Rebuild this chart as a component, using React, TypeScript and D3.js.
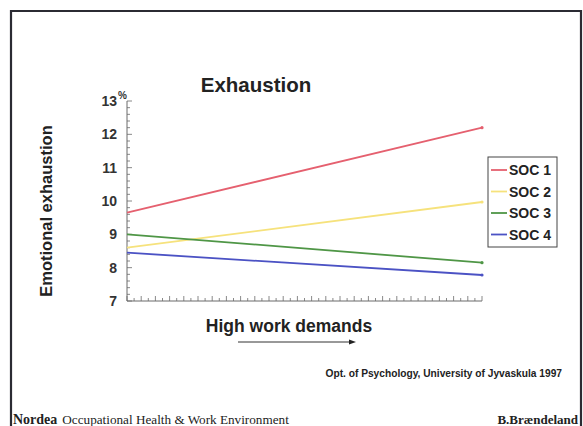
import React from "react";
import * as d3 from "d3";

const seriesNames = ["SOC 1", "SOC 2", "SOC 3", "SOC 4"];
const startValues = [9.65, 8.6, 9.0, 8.45];
const endValues = [12.2, 9.97, 8.15, 7.78];
const seriesColors = ["#e5606f", "#f6e27c", "#4f9646", "#4b52c4"];
const yTicks = [7, 8, 9, 10, 11, 12, 13];
const xPoints = [0, 1];

export default function App() {
  const W = 583, H = 426;
  const x = d3.scaleLinear().domain([0, 1]).range([127, 482]);
  const y = d3.scaleLinear().domain([7, 13]).range([301, 101]);
  const line = d3.line<[number, number]>().x(d => x(d[0])).y(d => y(d[1]));
  const yMinor = d3.range(7, 13.001, 0.2);
  const xMinor = d3.range(0, 51).map(i => i / 50);
  const axisColor = "#6b6b6b";
  return (
    <svg width={W} height={H} style={{ position: "absolute", left: 0, top: 0, background: "#fff" }}
      fontFamily="'Liberation Sans', Arial, sans-serif">
      {/* frame */}
      <path d={`M11,${H} L11,11 L581,11 L581,${H}`} fill="none" stroke="#2b2b33" strokeWidth={2.2} />
      <text x={256} y={92} textAnchor="middle" fontSize={20.5} fontWeight="bold" fill="#222">Exhaustion</text>
      {/* y axis */}
      <line x1={x(0)} x2={x(0)} y1={y(13)} y2={y(7)} stroke={axisColor} strokeWidth={1} />
      {yMinor.map((v, i) => (
        <line key={"ym" + i} x1={x(0)} x2={x(0) + (i % 5 === 0 ? 5 : 3)} y1={y(v)} y2={y(v)} stroke={axisColor} strokeWidth={0.8} />
      ))}
      {yTicks.map(v => (
        <text key={"yt" + v} x={x(0) - 10} y={y(v) + 5} textAnchor="end" fontSize={14} fontWeight="bold" fill="#333">{v}</text>
      ))}
      <text x={x(0) - 9} y={y(13) - 2} fontSize={10} fontWeight="bold" fill="#333">%</text>
      {/* x axis */}
      <line x1={x(0)} x2={x(1)} y1={y(7)} y2={y(7)} stroke={axisColor} strokeWidth={1} />
      {xMinor.map((v, i) => (
        <line key={"xm" + i} x1={x(v)} x2={x(v)} y1={y(7)} y2={y(7) - (i % 2 === 0 ? 5 : 3)} stroke={axisColor} strokeWidth={0.8} />
      ))}
      {/* series */}
      {seriesNames.map((n, i) => (
        <g key={n}>
          <path d={line(xPoints.map(p => [p, p === 0 ? startValues[i] : endValues[i]]) as [number, number][]) || ""}
            fill="none" stroke={seriesColors[i]} strokeWidth={1.8} />
          <circle cx={x(1)} cy={y(endValues[i])} r={1.6} fill={seriesColors[i]} />
        </g>
      ))}
      {/* legend */}
      <rect x={488} y={157} width={69} height={90} fill="#fff" stroke="#444" strokeWidth={1} />
      {seriesNames.map((n, i) => (
        <g key={"lg" + n}>
          <line x1={491} x2={507} y1={170 + i * 21.5} y2={170 + i * 21.5} stroke={seriesColors[i]} strokeWidth={1.8} />
          <text x={509} y={175 + i * 21.5} fontSize={14} fontWeight="bold" fill="#222">{n}</text>
        </g>
      ))}
      {/* axis titles */}
      <text transform={`translate(52,211) rotate(-90)`} textAnchor="middle" fontSize={16.5} fontWeight="bold" fill="#222">Emotional exhaustion</text>
      <text x={289} y={332} textAnchor="middle" fontSize={17.5} fontWeight="bold" fill="#222">High work demands</text>
      <line x1={238} x2={353} y1={342} y2={342} stroke="#333" strokeWidth={1} />
      <path d="M349,339.5 L356,342 L349,344.5 Z" fill="#222" />
      <text x={562} y={377} textAnchor="end" fontSize={10.2} fontWeight="bold" fill="#222">Opt. of Psychology, University of Jyvaskula 1997</text>
      {/* footer */}
      <text x={13} y={424} fontFamily="'Liberation Serif', 'Times New Roman', serif" fontSize={14} fill="#222">
        <tspan fontWeight="bold">Nordea</tspan>
        <tspan dx={5} fontSize={13.2}>Occupational Health &amp; Work Environment</tspan>
      </text>
      <text x={578} y={424} textAnchor="end" fontFamily="'Liberation Serif', 'Times New Roman', serif" fontSize={13} fontWeight="bold" fill="#222">B.Brændeland</text>
    </svg>
  );
}
